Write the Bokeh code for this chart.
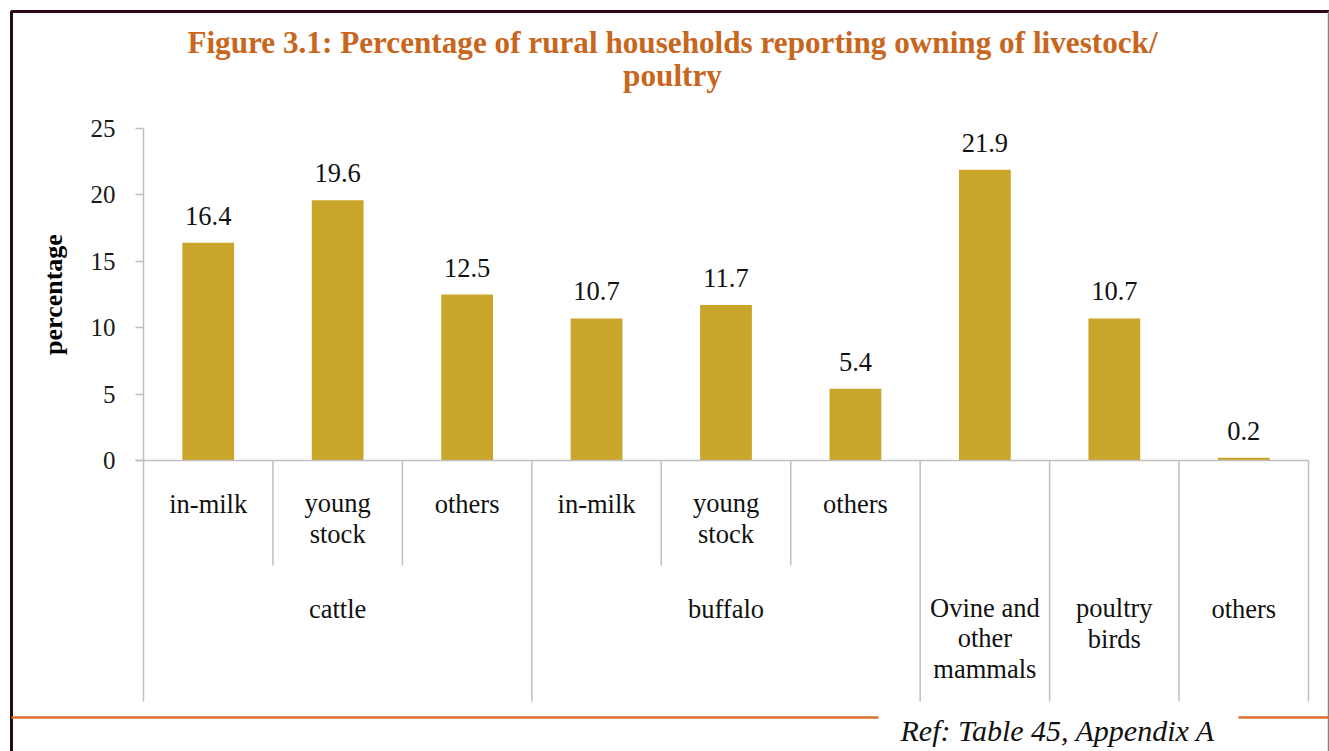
from bokeh.plotting import figure
from bokeh.models import Range1d, LinearAxis, FixedTicker, ColumnDataSource
from bokeh.core.properties import value
from bokeh.embed import file_html
from bokeh.resources import INLINE

# ---------------- data ----------------
sub_labels = ["in-milk", "young\nstock", "others", "in-milk", "young\nstock", "others", "", "", ""]
group_labels = ["cattle", "buffalo", "Ovine and\nother\nmammals", "poultry\nbirds", "others"]
group_sizes = [3, 3, 1, 1, 1]
values = [16.4, 19.6, 12.5, 10.7, 11.7, 5.4, 21.9, 10.7, 0.2]
value_text = ["16.4", "19.6", "12.5", "10.7", "11.7", "5.4", "21.9", "10.7", "0.2"]
y_ticks = [0, 5, 10, 15, 20, 25]
title_text = "Figure 3.1: Percentage of rural households reporting owning of livestock/\npoultry"
y_label = "percentage"
ref_text = "Ref: Table 45, Appendix A"

# ---------------- layout constants (pixels) ----------------
W, H = 1329, 751
X0, X1 = 143, 1308          # plot area left/right
Y0, YTOP = 460, 128         # value 0 / value 25
n = len(values)
CW = (X1 - X0) / n
YS = (Y0 - YTOP) / 25.0
LBL = 26.5                  # label font size
LH = 30.0                   # label line spacing (px)
EM = 1.107                  # font ascent+descent in em

def xd(px):
    return (px - X0) / CW

def yd(py):
    return (Y0 - py) / YS

def nlines(s):
    return s.count("\n") + 1

SERIF = value("Liberation Serif")
GOLD = "#C9A52A"
GRAY = "#BFBFBF"
ORANGE = "#C8661E"

p = figure(width=W, height=H, output_backend="svg", toolbar_location=None,
           x_range=Range1d(xd(0), xd(W)), y_range=Range1d(yd(H), yd(0)),
           x_axis_type=None, y_axis_type=None, min_border=0,
           min_border_left=0, min_border_right=0, min_border_top=0, min_border_bottom=0)
p.outline_line_color = None
p.grid.visible = False
p.background_fill_color = "white"
p.border_fill_color = "white"

# y axis
yax = LinearAxis(fixed_location=0, bounds=(0, 25), ticker=FixedTicker(ticks=y_ticks),
                 axis_label=y_label)
yax.axis_line_color = GRAY
yax.axis_line_width = 1.5
yax.major_tick_line_color = GRAY
yax.major_tick_line_width = 1.5
yax.major_tick_out = 8
yax.major_tick_in = 0
yax.minor_tick_line_color = None
yax.major_label_text_font = "Liberation Serif"
yax.major_label_text_font_size = "25px"
yax.major_label_text_color = "#1a1a1a"
yax.major_label_standoff = 20
yax.axis_label_text_font = "Liberation Serif"
yax.axis_label_text_font_style = "bold"
yax.axis_label_text_font_size = "26px"
yax.axis_label_text_color = "#000000"
yax.axis_label_standoff = 20
p.add_layout(yax, "left")

# bars
xs = [i + 0.5 for i in range(n)]
src = ColumnDataSource(dict(x=xs, top=values, lab=value_text,
                            ly=[v + 27 / YS for v in values]))
p.vbar(x="x", top="top", bottom=0, width=0.4, source=src, fill_color=GOLD, line_color=None)
p.text(x="x", y="ly", text="lab", source=src, text_font=SERIF, text_font_size=f"{LBL}px",
       text_align="center", text_baseline="middle", text_color="#111111")

# category axis: baseline + separators
p.segment(x0=[xd(135)], y0=[0], x1=[n], y1=[0], line_color=GRAY, line_width=1.5)
bounds = [0]
for g in group_sizes:
    bounds.append(bounds[-1] + g)
inner_x = [i for i in range(n + 1) if i not in bounds]
p.segment(x0=inner_x, y0=[0] * len(inner_x), x1=inner_x, y1=[yd(565)] * len(inner_x),
          line_color=GRAY, line_width=1.5)
p.segment(x0=bounds, y0=[0] * len(bounds), x1=bounds, y1=[yd(701)] * len(bounds),
          line_color=GRAY, line_width=1.5)

# sub-category labels (first line centred at 503px)
sub_x = [xs[i] for i in range(n) if sub_labels[i]]
sub_t = [sub_labels[i] for i in range(n) if sub_labels[i]]
sub_y = [yd(503 + (nlines(t) - 1) * LH / 2) for t in sub_t]
p.text(x=sub_x, y=sub_y, text=sub_t, text_font=SERIF, text_font_size=f"{LBL}px",
       text_align="center", text_baseline="middle", text_line_height=LH / (LBL * EM),
       text_color="#111111")

# group labels (first line centred at 608px)
gx = [(bounds[k] + bounds[k + 1]) / 2 for k in range(len(group_sizes))]
gy = [yd(608 + (nlines(t) - 1) * LH / 2) for t in group_labels]
p.text(x=gx, y=gy, text=group_labels, text_font=SERIF, text_font_size=f"{LBL}px",
       text_align="center", text_baseline="middle", text_line_height=LH / (LBL * EM),
       text_color="#111111")

# title (two lines at 42px and 75px)
TFS = 31.2
p.text(x=[xd(672)], y=[yd(42 + 33 / 2)], text=[title_text], text_font=SERIF,
       text_font_size=f"{TFS}px", text_font_style="bold", text_align="center",
       text_baseline="middle", text_line_height=33 / (TFS * EM), text_color=ORANGE)

# outer frame
p.line(x=[xd(11), xd(11), xd(1329)], y=[yd(751), yd(11), yd(11)], line_color="#2B0B12", line_width=3)
p.line(x=[xd(1328), xd(1328)], y=[yd(11), yd(751)], line_color="#8C7F84", line_width=1.5)

# bottom rule and reference
p.segment(x0=[xd(11), xd(1238)], y0=[yd(717), yd(717)], x1=[xd(878), xd(1329)], y1=[yd(717), yd(717)],
          line_color="#D9732A", line_width=2.5)
p.text(x=[xd(900)], y=[yd(730)], text=[ref_text], text_font=SERIF, text_font_size="30px",
       text_font_style="italic", text_align="left", text_baseline="middle", text_color="#111111")

open("out.html", "w").write(file_html(p, INLINE))
